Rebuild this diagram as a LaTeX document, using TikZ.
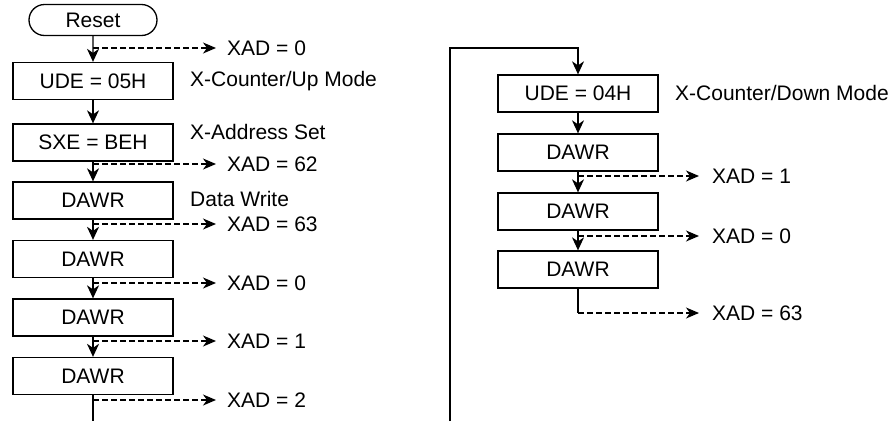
\documentclass[tikz,border=0pt]{standalone}
\usepackage{fontspec}
\setmainfont{Liberation Sans}
\usetikzlibrary{arrows.meta,calc,shapes.misc}
\begin{document}
\begin{tikzpicture}[x=1pt,y=-1pt,
  every node/.style={font=\fontsize{21pt}{25pt}\selectfont},
  procbox/.style={draw, line width=1.3pt, minimum width=160pt, minimum height=37pt, inner sep=0pt},
  termbox/.style={draw, line width=1.3pt, rounded rectangle, minimum width=128pt, minimum height=31pt, inner sep=0pt},
  lbl/.style={anchor=west, inner sep=0pt},
  flow/.style={line width=1.3pt, -{Stealth[length=13pt,width=12pt,inset=4pt]}},
  solidline/.style={line width=1.3pt},
  dasharrow/.style={line width=1.2pt, dash pattern=on 6pt off 3pt, -{Stealth[length=13pt,width=11pt,inset=4pt]}}
]
\useasboundingbox (0,0) rectangle (892,421);
% left column
\node[termbox] (reset) at (93,20) {Reset};
\node[procbox] (u1) at (93,81) {UDE = 05H};
\node[procbox] (s1) at (93,142.5) {SXE = BEH};
\node[procbox] (d1) at (93,200.5) {DAWR};
\node[procbox] (d2) at (93,259) {DAWR};
\node[procbox] (d3) at (93,317.5) {DAWR};
\node[procbox] (d4) at (93,376) {DAWR};
\coordinate (lend) at (93,421);

\node[lbl] (m1) at (190,81) {X-Counter/Up Mode};
\node[lbl] (m2) at (190,132) {X-Address Set};
\node[lbl] (m3) at (190,199) {Data Write};

\node[lbl] (x0) at (227,48) {XAD = 0};
\node[lbl] (x62) at (227,164) {XAD = 62};
\node[lbl] (x63) at (227,224) {XAD = 63};
\node[lbl] (x0b) at (227,283) {XAD = 0};
\node[lbl] (x1) at (227,341) {XAD = 1};
\node[lbl] (x2) at (227,400) {XAD = 2};

\draw[flow] (reset) -- (u1);
\draw[flow] (u1) -- (s1);
\draw[flow] (s1) -- (d1);
\draw[flow] (d1) -- (d2);
\draw[flow] (d2) -- (d3);
\draw[flow] (d3) -- (d4);
\draw[solidline] (d4) -- (lend);

\draw[dasharrow] (reset.south |- x0.west) -- ([xshift=-11pt]x0.west);
\draw[dasharrow] (s1.south |- x62.west) -- ([xshift=-11pt]x62.west);
\draw[dasharrow] (d1.south |- x63.west) -- ([xshift=-11pt]x63.west);
\draw[dasharrow] (d2.south |- x0b.west) -- ([xshift=-11pt]x0b.west);
\draw[dasharrow] (d3.south |- x1.west) -- ([xshift=-11pt]x1.west);
\draw[dasharrow] (d4.south |- x2.west) -- ([xshift=-11pt]x2.west);

% right column
\node[procbox] (u2) at (578,93.5) {UDE = 04H};
\node[procbox] (r1) at (578,152.5) {DAWR};
\node[procbox] (r2) at (578,211.5) {DAWR};
\node[procbox] (r3) at (578,269.5) {DAWR};
\node[lbl] (m4) at (675,93) {X-Counter/Down Mode};
\node[lbl] (y1) at (712,176) {XAD = 1};
\node[lbl] (y0) at (712,236) {XAD = 0};
\node[lbl] (y63) at (712,313) {XAD = 63};
\coordinate (lbot) at (450,421);
\coordinate (ltop) at (450,48);

\draw[flow] (lbot) -- (ltop) -| (u2.north);
\draw[flow] (u2) -- (r1);
\draw[flow] (r1) -- (r2);
\draw[flow] (r2) -- (r3);
\draw[dasharrow] (r1.south |- y1.west) -- ([xshift=-13pt]y1.west);
\draw[dasharrow] (r2.south |- y0.west) -- ([xshift=-13pt]y0.west);
\draw[solidline] (r3.south) -- (r3.south |- y63.west);
\draw[dasharrow] (r3.south |- y63.west) -- ([xshift=-13pt]y63.west);
\end{tikzpicture}
\end{document}
